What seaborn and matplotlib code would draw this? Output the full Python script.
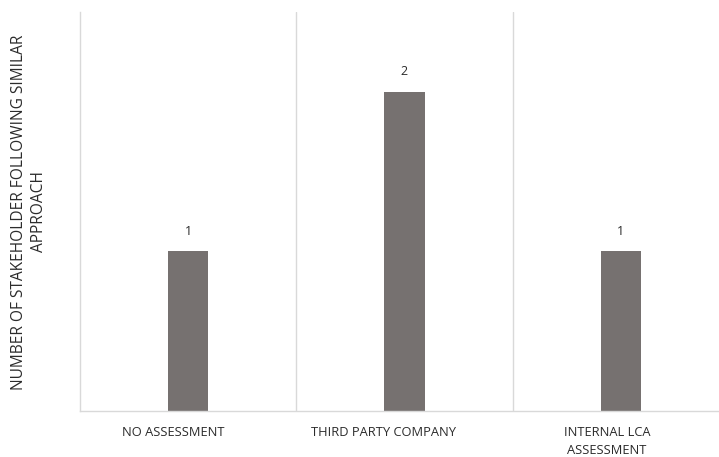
import matplotlib
matplotlib.use("Agg")
import matplotlib.pyplot as plt
import matplotlib.transforms as mtransforms
import seaborn as sns
import pandas as pd
from matplotlib.ticker import FixedLocator

categories = ["NO ASSESSMENT", "THIRD PARTY COMPANY", "INTERNAL LCA\nASSESSMENT"]
counts = [1, 2, 1]
y_label = "NUMBER OF STAKEHOLDER FOLLOWING SIMILAR\nAPPROACH"

df = pd.DataFrame({"approach": categories, "count": counts})

sns.set_theme(style="white")
plt.rcParams["font.family"] = ["Open Sans", "DejaVu Sans"]

fig = plt.figure(figsize=(7.19, 4.57), dpi=100)
W, H = 719, 457
ax = fig.add_axes([80 / W, (H - 411) / H, (729 - 80) / W, (411 - 12) / H])

bar_color = "#767170"
sns.barplot(data=df, x="approach", y="count", color=bar_color, width=0.185,
            saturation=1, ax=ax, edgecolor="none")

ax.set_xlim(-0.5, 2.5)
ax.set_ylim(0, 2.5)

text_color = "#2b2b2b"

# category separators
ax.xaxis.set_minor_locator(FixedLocator([0.5, 1.5]))
ax.grid(which="minor", axis="x", color="#d9d9d9", linewidth=1.0)
ax.grid(which="major", visible=False)
ax.tick_params(axis="x", which="both", length=0, pad=10.5, labelsize=9.3,
               colors=text_color)

# category labels sit slightly left of their bars
label_shift_px = [-15, -21, -14]
for lbl, dx in zip(ax.get_xticklabels(), label_shift_px):
    lbl.set_linespacing(1.55)
    lbl.set_transform(lbl.get_transform() +
                      mtransforms.ScaledTranslation(dx / 100, 0, fig.dpi_scale_trans))
ax.set_yticks([])

for s in ["top", "right"]:
    ax.spines[s].set_visible(False)
for s in ["left", "bottom"]:
    ax.spines[s].set_color("#d9d9d9")
    ax.spines[s].set_linewidth(1.0)

for i, v in enumerate(counts):
    ax.annotate(str(v), (i, v), xytext=(0, 14.5), textcoords="offset points",
                ha="center", va="center", fontsize=9, color=text_color)

ax.set_xlabel("")
ax.set_ylabel("")
fig.text(29 / W, (H - 212) / H, y_label, rotation=90, ha="center", va="center",
         fontsize=11.2, color=text_color, linespacing=1.3)

fig.savefig("out.png", dpi=100)
